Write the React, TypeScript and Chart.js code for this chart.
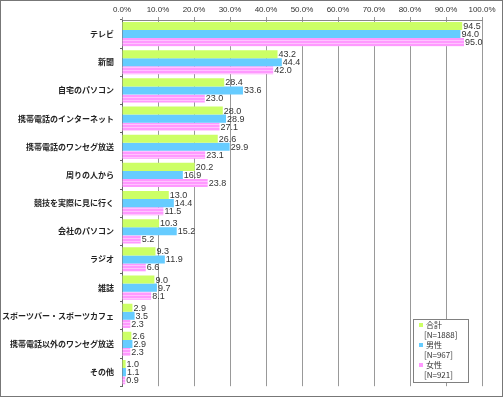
import React, { useEffect, useRef } from "react";
import { Chart, registerables } from "chart.js";

Chart.register(...registerables);

const categories = [
  "テレビ",
  "新聞",
  "自宅のパソコン",
  "携帯電話のインターネット",
  "携帯電話のワンセグ放送",
  "周りの人から",
  "競技を実際に見に行く",
  "会社のパソコン",
  "ラジオ",
  "雑誌",
  "スポーツバー・スポーツカフェ",
  "携帯電話以外のワンセグ放送",
  "その他",
];

const totalValues = [94.5, 43.2, 28.4, 28.0, 26.6, 20.2, 13.0, 10.3, 9.3, 9.0, 2.9, 2.6, 1.0];
const maleValues = [94.0, 44.4, 33.6, 28.9, 29.9, 16.9, 14.4, 15.2, 11.9, 9.7, 3.5, 2.9, 1.1];
const femaleValues = [95.0, 42.0, 23.0, 27.1, 23.1, 23.8, 11.5, 5.2, 6.6, 8.1, 2.3, 2.3, 0.9];

const seriesNames = ["合計", "男性", "女性"];
const seriesCounts = ["[N=1888]", "[N=967]", "[N=921]"];
const seriesColors = ["#ccff66", "#66ccff", "#ff99ff"];

const JP_FONT = "'Noto Sans CJK JP', 'DejaVu Sans', sans-serif";
const NUM_FONT = "'Liberation Sans', Arial, sans-serif";

function makePinkPattern(): CanvasPattern | string {
  const c = document.createElement("canvas");
  c.width = 4;
  c.height = 3;
  const g = c.getContext("2d");
  if (!g) return seriesColors[2];
  g.fillStyle = "#ff99ff";
  g.fillRect(0, 0, 4, 3);
  g.fillStyle = "#ffc4ff";
  g.fillRect(0, 1, 4, 1);
  const p = g.createPattern(c, "repeat");
  return p || seriesColors[2];
}

const frameAndLabels = {
  id: "frameAndLabels",
  afterDatasetsDraw(chart: any) {
    const ctx = chart.ctx;
    ctx.save();
    ctx.font = `9px ${NUM_FONT}`;
    ctx.fillStyle = "#333";
    ctx.textAlign = "left";
    ctx.textBaseline = "middle";
    chart.data.datasets.forEach((ds: any, di: number) => {
      const meta = chart.getDatasetMeta(di);
      meta.data.forEach((el: any, i: number) => {
        const v = ds.data[i] as number;
        ctx.fillText(v.toFixed(1), el.x + 1, el.y + 0.5);
      });
    });
    ctx.restore();
  },
  afterDraw(chart: any) {
    const ctx = chart.ctx;
    ctx.save();
    const lx = 413.5, ly = 319.5, lw = 55, lh = 63;
    ctx.fillStyle = "#fff";
    ctx.fillRect(lx, ly, lw, lh);
    ctx.strokeStyle = "#808080";
    ctx.lineWidth = 1;
    ctx.strokeRect(lx, ly, lw, lh);
    ctx.textAlign = "left";
    ctx.textBaseline = "middle";
    ctx.font = `8px ${JP_FONT}`;
    for (let i = 0; i < seriesNames.length; i++) {
      const y0 = 325 + i * 20;
      ctx.fillStyle = seriesColors[i];
      ctx.fillRect(419, y0 - 2, 4, 4);
      ctx.fillStyle = "#333";
      ctx.fillText(seriesNames[i], 426, y0);
      ctx.fillText(seriesCounts[i], 424, y0 + 10);
    }
    ctx.strokeStyle = "#777";
    ctx.strokeRect(0.5, 0.5, 502, 396);
    ctx.restore();
  },
};

export default function App() {
  const ref = useRef<HTMLCanvasElement | null>(null);
  useEffect(() => {
    document.body.style.margin = "0";
    const canvas = ref.current;
    if (!canvas) return;
    const chart = new Chart(canvas, {
      type: "bar",
      data: {
        labels: categories,
        datasets: [
          { label: seriesNames[0], data: totalValues, backgroundColor: seriesColors[0], borderWidth: 0 },
          { label: seriesNames[1], data: maleValues, backgroundColor: seriesColors[1], borderWidth: 0 },
          { label: seriesNames[2], data: femaleValues, backgroundColor: makePinkPattern() as any, borderWidth: 0 },
        ],
      },
      options: {
        indexAxis: "y",
        responsive: false,
        maintainAspectRatio: false,
        animation: false,
        events: [],
        layout: { padding: { left: 0, right: 21, top: 0, bottom: 7 } },
        datasets: { bar: { categoryPercentage: 0.86, barPercentage: 1 } },
        plugins: { legend: { display: false }, tooltip: { enabled: false } },
        scales: {
          x: {
            position: "top",
            min: 0,
            max: 100,
            ticks: {
              stepSize: 10,
              callback: (v: any) => Number(v).toFixed(1) + "%",
              font: { size: 8, family: NUM_FONT },
              color: "#333",
              padding: 2,
              maxRotation: 0,
            },
            grid: { color: "#999", tickLength: 3 },
            border: { color: "#888" },
            afterFit: (s: any) => {
              s.height = 20;
            },
          },
          y: {
            ticks: { font: { size: 8, family: JP_FONT, weight: "bold" }, color: "#222", padding: 6 },
            grid: { drawOnChartArea: false, offset: true, tickLength: 2, color: "#666" },
            border: { color: "#666" },
            afterFit: (s: any) => {
              s.width = 122;
            },
          },
        },
      },
      plugins: [frameAndLabels],
    } as any);
    return () => chart.destroy();
  }, []);
  return (
    <div style={{ width: 503, height: 397, background: "#fff" }}>
      <canvas ref={ref} width={503} height={397} style={{ display: "block" }} />
    </div>
  );
}
